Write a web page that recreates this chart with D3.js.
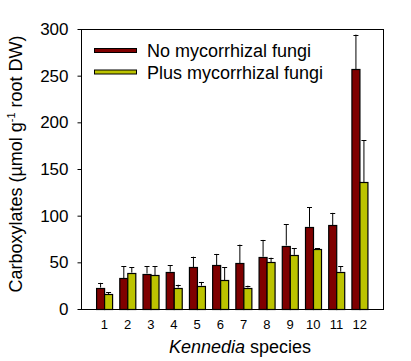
<!DOCTYPE html>
<html>
<head>
<meta charset="utf-8">
<script src="https://cdn.jsdelivr.net/npm/d3@7"></script>
<style>
  body { margin: 0; background: #fff; }
  text { font-family: "Liberation Sans", Arial, sans-serif; }
</style>
</head>
<body>
<svg id="chart" width="411" height="361"></svg>
<script>
const species = ["1","2","3","4","5","6","7","8","9","10","11","12"];
const noMyco = [23, 33, 38, 40, 45, 47, 49, 56, 68, 88, 90, 257];
const noMycoErr = [5, 13, 8, 7, 11, 12, 20, 18, 23, 21, 13, 37];
const plusMyco = [16, 39, 36, 23, 25, 31, 23, 50, 58, 64, 40, 136];
const plusMycoErr = [2, 6, 10, 3, 4, 14, 2, 5, 7, 1, 6, 45];
const seriesNames = ["No mycorrhizal fungi", "Plus mycorrhizal fungi"];
const yTicks = [0, 50, 100, 150, 200, 250, 300];

const colors = ["#7f0000", "#bcc300"];
const margin = {top: 29, right: 28, bottom: 52, left: 81};
const width = 411, height = 361;

const svg = d3.select("#chart");

const x = d3.scaleBand(species, [margin.left, width - margin.right])
    .paddingInner(0.29).paddingOuter(0.65);
const xs = d3.scaleBand([0, 1], [0, x.bandwidth()]);
const y = d3.scaleLinear([0, 300], [height - margin.bottom, margin.top]);

const rows = species.map((s, i) => ({
  s,
  vals: [
    {k: 0, v: noMyco[i], e: noMycoErr[i]},
    {k: 1, v: plusMyco[i], e: plusMycoErr[i]}
  ]
}));

// frame
svg.append("rect")
    .attr("x", margin.left + 0.5)
    .attr("y", margin.top + 0.5)
    .attr("width", width - margin.right - margin.left)
    .attr("height", height - margin.bottom - margin.top)
    .attr("fill", "none")
    .attr("stroke", "#000");

const g = svg.append("g").selectAll("g")
  .data(rows)
  .join("g")
    .attr("transform", d => `translate(${x(d.s)},0)`);

// error bars (upper only)
g.selectAll("g.err")
  .data(d => d.vals)
  .join("g")
    .attr("class", "err")
    .attr("stroke", "#000")
    .attr("stroke-width", 1)
    .each(function(d) {
      const cx = Math.round(xs(d.k) + xs.bandwidth() / 2) + 0.5;
      const sel = d3.select(this);
      sel.append("line")
          .attr("x1", cx).attr("x2", cx)
          .attr("y1", y(d.v)).attr("y2", y(d.v + d.e));
      sel.append("line")
          .attr("x1", cx - 2.5).attr("x2", cx + 2.5)
          .attr("y1", Math.round(y(d.v + d.e)) + 0.5)
          .attr("y2", Math.round(y(d.v + d.e)) + 0.5);
    });

g.selectAll("rect")
  .data(d => d.vals)
  .join("rect")
    .attr("x", d => Math.round(xs(d.k)) + 0.5)
    .attr("y", d => Math.round(y(d.v)) + 0.5)
    .attr("width", Math.round(xs.bandwidth()))
    .attr("height", d => y(0) - Math.round(y(d.v)))
    .attr("fill", d => colors[d.k])
    .attr("stroke", "#000")
    .attr("stroke-width", 1.2);

// y axis
svg.append("g")
    .attr("transform", `translate(${margin.left + 0.5},0)`)
    .call(d3.axisLeft(y).tickValues(yTicks).tickSize(4).tickPadding(9))
    .call(g => g.select(".domain").remove())
    .call(g => g.selectAll(".tick line").attr("stroke", "#000"))
    .call(g => g.selectAll(".tick text")
        .attr("font-size", 17)
        .attr("fill", "#000")
        .attr("font-family", "'Liberation Sans', Arial, sans-serif"));

// x axis
svg.append("g")
    .attr("transform", `translate(0,${height - margin.bottom})`)
    .call(d3.axisBottom(x).tickSize(0).tickPadding(11))
    .call(g => g.select(".domain").remove())
    .call(g => g.selectAll(".tick text")
        .attr("font-size", 13)
        .attr("fill", "#000")
        .attr("font-family", "'Liberation Sans', Arial, sans-serif"));

// axis titles
const xt = svg.append("text")
    .attr("x", 240)
    .attr("y", 353)
    .attr("text-anchor", "middle")
    .attr("font-size", 18);
xt.append("tspan").attr("font-style", "italic").text("Kennedia");
xt.append("tspan").text(" species");

const yt = svg.append("text")
    .attr("transform", "translate(22,164) rotate(-90)")
    .attr("text-anchor", "middle")
    .attr("font-size", 18);
yt.append("tspan").text("Carboxylates (µmol g");
yt.append("tspan").attr("font-size", 11).attr("dy", -7).text("-1");
yt.append("tspan").attr("dy", 7).text(" root DW)");

// legend
const legend = svg.append("g")
  .selectAll("g")
  .data(seriesNames)
  .join("g")
    .attr("transform", (d, i) => `translate(94,${51 + i * 21.5})`);
legend.append("rect")
    .attr("x", 0.5).attr("y", -2.5)
    .attr("width", 42).attr("height", 4)
    .attr("fill", (d, i) => colors[i])
    .attr("stroke", "#000");
legend.append("text")
    .attr("x", 53)
    .attr("y", 0)
    .attr("dy", "0.35em")
    .attr("font-size", 18)
    .text(d => d);
</script>
</body>
</html>
